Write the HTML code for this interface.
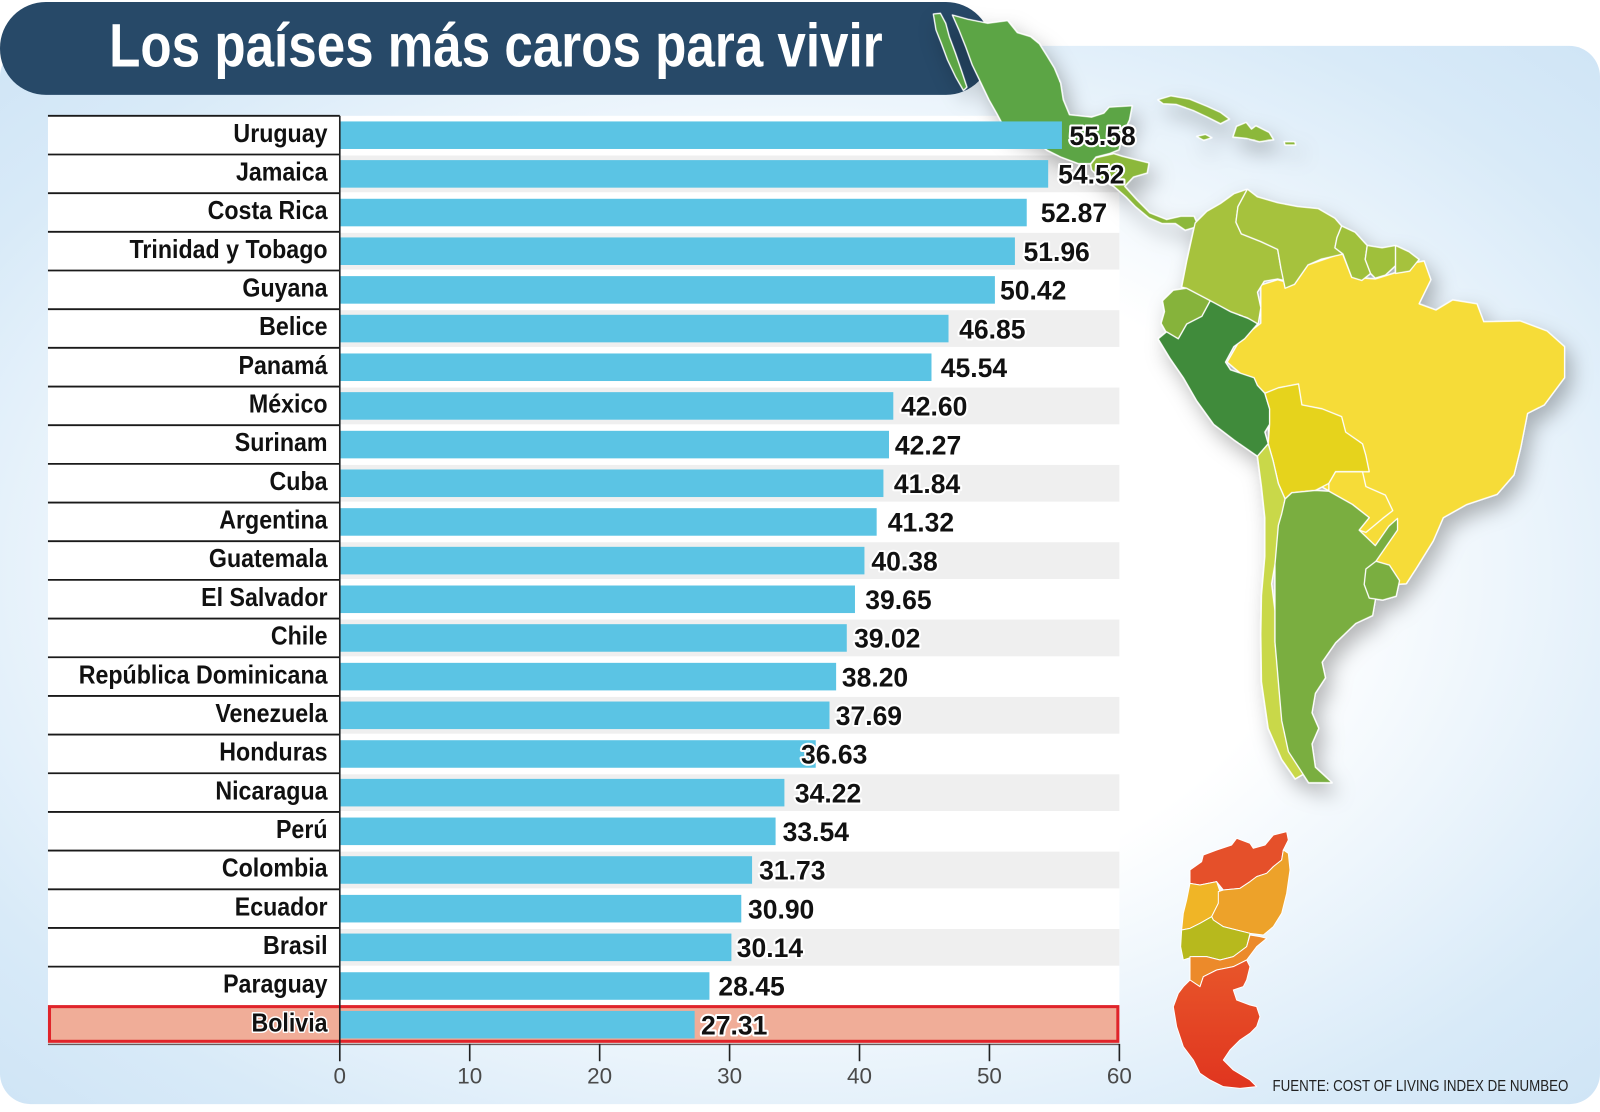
<!DOCTYPE html>
<html><head><meta charset="utf-8"><style>
html,body{margin:0;padding:0;background:#fff;}
svg{display:block;}
.lbl{font-family:"Liberation Sans",sans-serif;font-weight:bold;font-size:25px;fill:#111;stroke:#fff;stroke-width:3;paint-order:stroke;stroke-linejoin:round;}
.val{font-family:"Liberation Sans",sans-serif;font-weight:bold;font-size:26px;fill:#111;stroke:#fff;stroke-width:4;paint-order:stroke;stroke-linejoin:round;}
.tick{font-family:"Liberation Sans",sans-serif;font-size:22px;fill:#4a4a4a;}
</style></head><body>
<svg width="1600" height="1112" viewBox="0 0 1600 1112" xmlns="http://www.w3.org/2000/svg">
<defs>
<radialGradient id="bg" cx="0.5" cy="0.5" r="0.7">
<stop offset="0.45" stop-color="#ffffff"/>
<stop offset="0.85" stop-color="#d8eaf8"/>
<stop offset="1" stop-color="#d0e5f6"/>
</radialGradient>
<linearGradient id="redg" x1="0" y1="0" x2="0" y2="1">
<stop offset="0" stop-color="#e8562a"/>
<stop offset="1" stop-color="#e0351f"/>
</linearGradient>
<filter id="sh" x="-20%" y="-20%" width="140%" height="140%">
<feDropShadow dx="6" dy="10" stdDeviation="10" flood-color="#000" flood-opacity="0.28"/>
</filter>
</defs>
<rect x="0" y="0" width="1600" height="1112" fill="#fff"/>
<g transform="scale(1.0204)">
<rect x="0" y="45" width="1568" height="1037" rx="30" fill="url(#bg)"/>

<!-- title banner -->
<rect x="0" y="2" width="972" height="91" rx="45" fill="#274968"/>
<text x="107" y="65" textLength="758" lengthAdjust="spacingAndGlyphs" font-family="Liberation Sans, sans-serif" font-weight="bold" font-size="60" fill="#fff">Los países más caros para vivir</text>

<!-- chart white area -->
<rect x="47" y="113.5" width="1050" height="910" fill="#fff"/>

<!-- gray stripes -->
<g fill="#efefef">
<rect x="333" y="152.4" width="764" height="36"/>
<rect x="333" y="228.2" width="764" height="36"/>
<rect x="333" y="304" width="764" height="36"/>
<rect x="333" y="379.8" width="764" height="36"/>
<rect x="333" y="455.6" width="764" height="36"/>
<rect x="333" y="531.4" width="764" height="36"/>
<rect x="333" y="607.2" width="764" height="36"/>
<rect x="333" y="683" width="764" height="36"/>
<rect x="333" y="758.8" width="764" height="36"/>
<rect x="333" y="834.6" width="764" height="36"/>
<rect x="333" y="910.4" width="764" height="36"/>
</g>

<!-- left row lines -->
<g stroke="#1a1a1a" stroke-width="1.8">
<line x1="47" y1="113.5" x2="333" y2="113.5"/>
<line x1="47" y1="151.4" x2="333" y2="151.4"/>
<line x1="47" y1="189.3" x2="333" y2="189.3"/>
<line x1="47" y1="227.2" x2="333" y2="227.2"/>
<line x1="47" y1="265.1" x2="333" y2="265.1"/>
<line x1="47" y1="303" x2="333" y2="303"/>
<line x1="47" y1="340.9" x2="333" y2="340.9"/>
<line x1="47" y1="378.8" x2="333" y2="378.8"/>
<line x1="47" y1="416.7" x2="333" y2="416.7"/>
<line x1="47" y1="454.6" x2="333" y2="454.6"/>
<line x1="47" y1="492.5" x2="333" y2="492.5"/>
<line x1="47" y1="530.4" x2="333" y2="530.4"/>
<line x1="47" y1="568.3" x2="333" y2="568.3"/>
<line x1="47" y1="606.2" x2="333" y2="606.2"/>
<line x1="47" y1="644.1" x2="333" y2="644.1"/>
<line x1="47" y1="682" x2="333" y2="682"/>
<line x1="47" y1="719.9" x2="333" y2="719.9"/>
<line x1="47" y1="757.8" x2="333" y2="757.8"/>
<line x1="47" y1="795.7" x2="333" y2="795.7"/>
<line x1="47" y1="833.6" x2="333" y2="833.6"/>
<line x1="47" y1="871.5" x2="333" y2="871.5"/>
<line x1="47" y1="909.4" x2="333" y2="909.4"/>
<line x1="47" y1="947.3" x2="333" y2="947.3"/>
</g>

<!-- Bolivia highlight -->
<line x1="47" y1="1023.5" x2="1097" y2="1023.5" stroke="#6a5a5a" stroke-width="1.5"/>
<rect x="48.5" y="986.5" width="1047" height="34" fill="#f0ad98" stroke="#e0242a" stroke-width="3"/>

<!-- MAP -->
<g filter="url(#sh)">
<g transform="translate(883.5,0) scale(0.433,0.326)" stroke="#fff" stroke-linejoin="round">
<polygon vector-effect="non-scaling-stroke" stroke-width="1.3" fill="#5ca544" points="72,42 88,40 100,70 108,110 122,160 135,210 148,262 140,272 122,230 104,180 90,130 78,90"/>
<polygon vector-effect="non-scaling-stroke" stroke-width="1.3" fill="#5ca544" points="115,45 150,58 195,70 240,62 262,98 292,110 312,132 330,170 346,205 360,250 366,300 380,345 430,352 458,340 470,322 522,318 516,360 502,400 492,450 470,462 440,472 428,492 400,492 360,472 330,452 300,422 262,402 232,382 216,342 198,300 180,250 160,195 145,140 130,90"/>
<polygon vector-effect="non-scaling-stroke" stroke-width="1.3" fill="#8cb83b" points="440,474 480,462 500,470 560,490 556,520 525,532 505,560 532,600 562,640 600,660 632,650 662,650 672,680 642,692 620,672 590,672 560,655 530,622 508,592 480,560 452,540 430,510 428,494"/>
<polygon vector-effect="non-scaling-stroke" stroke-width="1.3" fill="#8cb83b" points="580,300 610,288 652,298 692,320 722,338 742,358 722,372 692,352 660,332 622,314 592,312"/>
<polygon vector-effect="non-scaling-stroke" stroke-width="1.3" fill="#8cb83b" points="668,410 688,404 702,414 684,422"/>
<polygon vector-effect="non-scaling-stroke" stroke-width="1.3" fill="#8cb83b" points="758,380 780,368 792,388 802,378 832,398 842,420 810,426 780,416 750,412"/>
<polygon vector-effect="non-scaling-stroke" stroke-width="1.3" fill="#8cb83b" points="866,426 890,426 892,436 868,436"/>
</g>
<g transform="translate(1097,172) scale(0.33,0.381)" stroke="#fff" stroke-linejoin="round">
<polygon vector-effect="non-scaling-stroke" stroke-width="1.3" fill="#f6dc37" points="420,282 470,268 520,280 560,230 662,200 690,262 760,266 820,250 852,244 880,224 905,220 925,268 890,330 940,346 990,320 1062,330 1082,376 1190,374 1270,400 1322,440 1322,520 1262,590 1212,612 1192,700 1172,770 1122,820 1032,846 962,880 932,940 882,1010 852,1050 820,1052 760,992 720,920 640,820 560,780 460,780 430,560 320,480 360,420 420,380 420,330"/>
<polygon vector-effect="non-scaling-stroke" stroke-width="1.3" fill="#86b33a" points="128,322 160,295 200,290 270,322 245,362 200,382 175,420 140,405 124,380 134,350"/>
<polygon vector-effect="non-scaling-stroke" stroke-width="1.3" fill="#418b3b" points="115,420 140,402 175,420 200,382 245,362 270,322 290,330 330,350 390,370 420,350 410,382 372,420 340,440 315,480 330,500 400,520 410,540 432,560 446,600 446,640 432,660 442,690 410,722 340,680 280,640 230,580 190,520 150,470"/>
<polygon vector-effect="non-scaling-stroke" stroke-width="1.3" fill="#a6c23c" points="185,287 200,220 225,122 260,92 300,72 340,47 380,35 352,80 346,120 362,150 420,170 470,190 480,240 500,272 470,266 430,272 410,300 420,340 412,382 380,366 330,350 270,322 200,290"/>
<polygon vector-effect="non-scaling-stroke" stroke-width="1.3" fill="#a6c23c" points="380,35 410,55 470,70 530,80 590,85 640,110 660,130 646,160 640,186 664,202 600,215 560,230 520,280 492,290 480,240 470,190 420,170 362,150 346,120 352,80"/>
<polygon vector-effect="non-scaling-stroke" stroke-width="1.3" fill="#9fc03b" points="660,130 700,146 736,180 730,216 746,252 720,270 690,262 664,202 640,186 646,160"/>
<polygon vector-effect="non-scaling-stroke" stroke-width="1.3" fill="#9fc03b" points="736,180 780,186 820,180 820,232 790,256 760,264 746,252 730,216"/>
<polygon vector-effect="non-scaling-stroke" stroke-width="1.3" fill="#a6c23c" points="820,180 860,196 890,216 862,246 820,252 820,232"/>
<polygon vector-effect="non-scaling-stroke" stroke-width="1.3" fill="#e6d31f" points="432,560 472,546 532,536 542,590 602,600 660,620 672,660 722,690 732,720 742,762 700,762 642,762 622,792 582,810 512,816 492,832 472,792 456,732 442,690 446,640 446,600"/>
<polygon vector-effect="non-scaling-stroke" stroke-width="1.3" fill="#f6dc37" points="622,792 642,762 722,762 732,800 790,822 812,862 782,882 732,918 712,912 742,880 692,846 622,812"/>
<polygon vector-effect="non-scaling-stroke" stroke-width="1.3" fill="#c9d84a" points="410,722 442,690 456,732 472,792 492,832 482,880 472,950 462,1000 452,1050 462,1120 462,1200 472,1280 482,1360 502,1420 522,1480 562,1532 522,1552 482,1502 442,1422 422,1302 420,1180 422,1080 432,980 432,880 422,800"/>
<polygon vector-effect="non-scaling-stroke" stroke-width="1.3" fill="#7aae40" points="492,832 512,816 582,810 622,812 692,846 742,880 712,912 760,952 800,902 826,882 826,912 762,992 732,1060 762,1082 752,1132 702,1152 642,1202 602,1252 612,1292 582,1332 572,1382 592,1422 572,1462 582,1522 632,1562 562,1562 532,1522 502,1482 482,1402 472,1302 462,1200 462,1100 462,1000 472,900 482,870"/>
<polygon vector-effect="non-scaling-stroke" stroke-width="1.3" fill="#7aae40" points="732,1012 762,992 802,1002 832,1042 822,1082 782,1092 742,1087 727,1052"/>
</g>
</g>

<!-- inset map -->
<g transform="translate(1127,803.6) scale(0.32667)" stroke="#fff" stroke-linejoin="round">
<polygon vector-effect="non-scaling-stroke" stroke-width="1" fill="#e5502a" points="120,150 155,125 160,105 200,90 245,75 260,55 300,70 310,85 345,75 370,45 410,35 415,60 400,90 395,120 370,140 350,160 320,170 300,185 270,205 220,210 200,185 150,195 120,190"/>
<polygon vector-effect="non-scaling-stroke" stroke-width="1" fill="#f0b526" points="120,190 150,195 200,185 210,215 205,250 185,290 150,310 120,325 95,330 100,280 110,240"/>
<polygon vector-effect="non-scaling-stroke" stroke-width="1" fill="#eda22a" points="205,215 220,210 270,205 300,185 320,170 350,160 370,140 395,120 400,90 415,100 420,150 410,220 395,280 370,320 340,345 300,340 260,330 220,320 190,300 185,290 205,250"/>
<polygon vector-effect="non-scaling-stroke" stroke-width="1" fill="#b7b91d" points="95,330 120,325 150,310 185,290 190,300 220,320 260,330 300,340 290,380 250,410 210,420 170,410 130,410 100,420 92,380"/>
<polygon vector-effect="non-scaling-stroke" stroke-width="1" fill="#ec8a2a" points="120,410 170,410 210,420 250,410 290,380 300,345 330,350 350,355 320,380 290,420 250,440 200,450 160,470 150,500 120,480"/>
<polygon vector-effect="non-scaling-stroke" stroke-width="1" fill="url(#redg)" points="100,500 120,480 150,500 160,470 200,450 250,440 290,420 300,440 290,480 280,500 250,510 260,540 300,555 320,560 330,590 320,620 300,640 270,660 240,690 220,720 250,750 300,780 320,800 270,805 220,800 180,780 150,760 130,720 100,680 80,620 70,560 85,520"/>
</g>

<!-- bars -->
<g fill="#5bc4e4">
<rect x="333" y="119" width="707.72" height="27"/>
<rect x="333" y="156.9" width="694.22" height="27"/>
<rect x="333" y="194.8" width="673.21" height="27"/>
<rect x="333" y="232.7" width="661.62" height="27"/>
<rect x="333" y="270.6" width="642.01" height="27"/>
<rect x="333" y="308.5" width="596.55" height="27"/>
<rect x="333" y="346.4" width="579.87" height="27"/>
<rect x="333" y="384.3" width="542.44" height="27"/>
<rect x="333" y="422.2" width="538.23" height="27"/>
<rect x="333" y="460.1" width="532.76" height="27"/>
<rect x="333" y="498" width="526.14" height="27"/>
<rect x="333" y="535.9" width="514.17" height="27"/>
<rect x="333" y="573.8" width="504.88" height="27"/>
<rect x="333" y="611.7" width="496.85" height="27"/>
<rect x="333" y="649.6" width="486.41" height="27"/>
<rect x="333" y="687.5" width="479.92" height="27"/>
<rect x="333" y="725.4" width="466.42" height="27"/>
<rect x="333" y="763.3" width="435.73" height="27"/>
<rect x="333" y="801.2" width="427.08" height="27"/>
<rect x="333" y="839.1" width="404.03" height="27"/>
<rect x="333" y="877" width="393.46" height="27"/>
<rect x="333" y="914.9" width="383.78" height="27"/>
<rect x="333" y="952.8" width="362.26" height="27"/>
<rect x="333" y="990.7" width="347.75" height="27"/>
</g>

<!-- axis -->
<g stroke="#222" stroke-width="1.6">
<line x1="333" y1="113.5" x2="333" y2="1040"/>
<line x1="460.33" y1="1023" x2="460.33" y2="1040"/>
<line x1="587.67" y1="1023" x2="587.67" y2="1040"/>
<line x1="715" y1="1023" x2="715" y2="1040"/>
<line x1="842.33" y1="1023" x2="842.33" y2="1040"/>
<line x1="969.67" y1="1023" x2="969.67" y2="1040"/>
<line x1="1097" y1="1023" x2="1097" y2="1040"/>
</g>
<g class="tick" text-anchor="middle">
<text x="333" y="1062">0</text>
<text x="460.33" y="1062">10</text>
<text x="587.67" y="1062">20</text>
<text x="715" y="1062">30</text>
<text x="842.33" y="1062">40</text>
<text x="969.67" y="1062">50</text>
<text x="1097" y="1062">60</text>
</g>

<!-- labels -->
<g transform="scale(0.91,1)" text-anchor="end" class="lbl">
<text x="352.75" y="139">Uruguay</text>
<text x="352.75" y="176.9">Jamaica</text>
<text x="352.75" y="214.8">Costa Rica</text>
<text x="352.75" y="252.7">Trinidad y Tobago</text>
<text x="352.75" y="290.6">Guyana</text>
<text x="352.75" y="328.5">Belice</text>
<text x="352.75" y="366.4">Panamá</text>
<text x="352.75" y="404.3">México</text>
<text x="352.75" y="442.2">Surinam</text>
<text x="352.75" y="480.1">Cuba</text>
<text x="352.75" y="518">Argentina</text>
<text x="352.75" y="555.9">Guatemala</text>
<text x="352.75" y="593.8">El Salvador</text>
<text x="352.75" y="631.7">Chile</text>
<text x="352.75" y="669.6">República Dominicana</text>
<text x="352.75" y="707.5">Venezuela</text>
<text x="352.75" y="745.4">Honduras</text>
<text x="352.75" y="783.3">Nicaragua</text>
<text x="352.75" y="821.2">Perú</text>
<text x="352.75" y="859.1">Colombia</text>
<text x="352.75" y="897">Ecuador</text>
<text x="352.75" y="934.9">Brasil</text>
<text x="352.75" y="972.8">Paraguay</text>
<text x="352.75" y="1010.7">Bolivia</text>
</g>

<!-- values -->
<g class="val">
<text x="1048" y="142">55.58</text>
<text x="1037" y="179.9">54.52</text>
<text x="1020" y="217.8">52.87</text>
<text x="1003" y="255.7">51.96</text>
<text x="980" y="293.6">50.42</text>
<text x="940" y="331.5">46.85</text>
<text x="922" y="369.4">45.54</text>
<text x="883" y="407.3">42.60</text>
<text x="877" y="445.2">42.27</text>
<text x="876" y="483.1">41.84</text>
<text x="870" y="521">41.32</text>
<text x="854" y="558.9">40.38</text>
<text x="848" y="596.8">39.65</text>
<text x="837" y="634.7">39.02</text>
<text x="825" y="672.6">38.20</text>
<text x="819" y="710.5">37.69</text>
<text x="785" y="748.4">36.63</text>
<text x="779" y="786.3">34.22</text>
<text x="767" y="824.2">33.54</text>
<text x="744" y="862.1">31.73</text>
<text x="733" y="900">30.90</text>
<text x="722" y="937.9">30.14</text>
<text x="704" y="975.8">28.45</text>
<text x="687" y="1013.7">27.31</text>
</g>

<text x="1247" y="1069" textLength="290" lengthAdjust="spacingAndGlyphs" font-family="Liberation Sans, sans-serif" font-size="15" fill="#222">FUENTE: COST OF LIVING INDEX DE NUMBEO</text>
</g>
</svg>
</body></html>
